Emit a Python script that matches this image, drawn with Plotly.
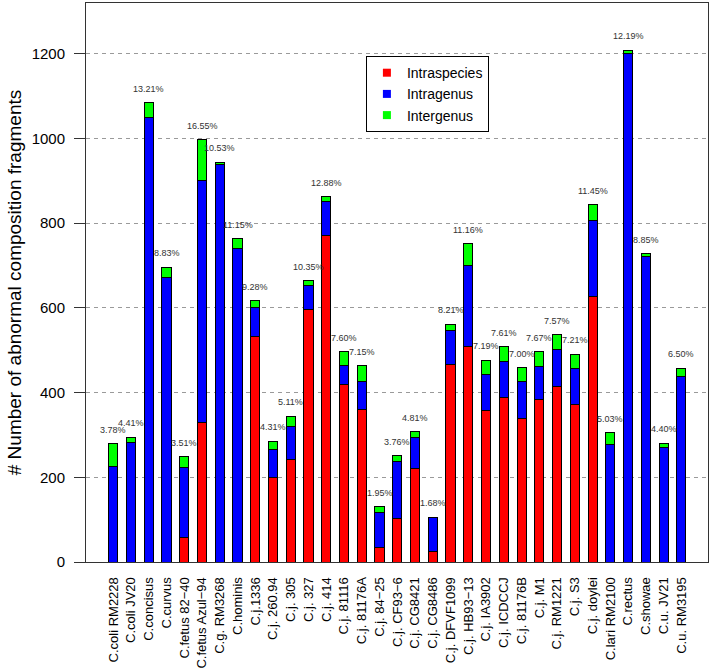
import plotly.graph_objects as go

strains = ["C.coli RM2228", "C.coli JV20", "C.concisus", "C.curvus", "C.fetus 82\u221240",
           "C.fetus Azul\u221294", "C.g. RM3268", "C.hominis", "C.j.1336", "C.j. 260.94",
           "C.j. 305", "C.j. 327", "C.j. 414", "C.j. 81116", "C.j. 81176A",
           "C.j. 84\u221225", "C.j. CF93\u22126", "C.j. CG8421", "C.j. CG8486", "C.j. DFVF1099",
           "C.j. HB93\u221213", "C.j. IA3902", "C.j. ICDCCJ", "C.j. 81176B", "C.j. M1",
           "C.j. RM1221", "C.j. S3", "C.j. doylei", "C.lari RM2100", "C.rectus",
           "C.showae", "C.u. JV21", "C.u. RM3195"]

intraspecies = [0, 0, 0, 0, 57, 330, 0, 0, 532, 200, 243, 597, 770, 420, 361, 35, 102,
                220, 24, 467, 510, 358, 388, 338, 384, 415, 371, 626, 0, 0, 0, 0, 0]
intragenus = [225, 283, 1050, 671, 165, 571, 939, 741, 68, 65, 77, 55, 81, 45, 65, 83, 136,
              73, 81, 79, 191, 85, 86, 89, 78, 86, 86, 180, 278, 1200, 722, 271, 437]
intergenus = [54, 12, 34, 25, 27, 96, 5, 22, 17, 20, 24, 12, 11, 31, 37, 12, 13,
              15, 1, 16, 50, 34, 34, 32, 34, 36, 33, 38, 27, 8, 6, 9, 21]
percent = ["3.78%", "4.41%", "13.21%", "8.83%", "3.51%", "16.55%", "10.53%", "11.15%",
           "9.28%", "4.31%", "5.11%", "10.35%", "12.88%", "7.60%", "7.15%", "1.95%",
           "3.76%", "4.81%", "1.68%", "8.21%", "11.16%", "7.19%", "7.61%", "7.00%",
           "7.67%", "7.57%", "7.21%", "11.45%", "5.03%", "12.19%", "8.85%", "4.40%", "6.50%"]

series = [("Intraspecies", intraspecies, "#ff0000"),
          ("Intragenus", intragenus, "#0000ff"),
          ("Intergenus", intergenus, "#00ff00")]

FONT = "Liberation Sans, Arial, sans-serif"

fig = go.Figure()
for name, vals, col in series:
    fig.add_trace(go.Bar(x=strains, y=vals, name=name, width=0.52, showlegend=False,
                         marker=dict(color=col, line=dict(color="black", width=1))))
    # legend swatch without outline, like the original
    fig.add_trace(go.Scatter(x=[None], y=[None], mode="markers", name=name,
                             marker=dict(symbol="square", size=8, color=col)))

totals = [a + b + c for a, b, c in zip(intraspecies, intragenus, intergenus)]
for s, t, p in zip(strains, totals, percent):
    fig.add_annotation(x=s, y=t, text=p, showarrow=False, yshift=14,
                       font=dict(size=9, color="#333333", family=FONT))

fig.update_layout(
    barmode="stack",
    width=713, height=672,
    margin=dict(l=86, r=5, t=3, b=110, autoexpand=False),
    plot_bgcolor="white", paper_bgcolor="white",
    font=dict(family=FONT, color="black"),
    legend=dict(x=0.45, y=0.905, xanchor="left", yanchor="top",
                bordercolor="black", borderwidth=1, traceorder="normal",
                font=dict(size=14), bgcolor="white"),
)
fig.update_xaxes(range=[-1.54, 33.5], tickmode="array", tickvals=strains, ticktext=strains,
                 tickangle=-90, tickfont=dict(size=13), ticks="", ticklabelstandoff=9,
                 showline=True, mirror=True, linecolor="#333333", linewidth=1, showgrid=False)
fig.update_yaxes(range=[0, 1320], tickvals=[0, 200, 400, 600, 800, 1000, 1200],
                 ticks="outside", ticklen=11, tickcolor="#333333", tickfont=dict(size=15),
                 ticklabelstandoff=6,
                 showgrid=True, gridcolor="#9a9a9a", griddash="4px,4px", gridwidth=1,
                 zeroline=False, showline=True, mirror=True, linecolor="#333333", linewidth=1,
                 title=dict(text="# Number of abnormal composition fragments",
                            font=dict(size=19), standoff=4))

fig.write_html("out.html", config={"displayModeBar": False},
               post_script="document.body.style.margin='0';")
